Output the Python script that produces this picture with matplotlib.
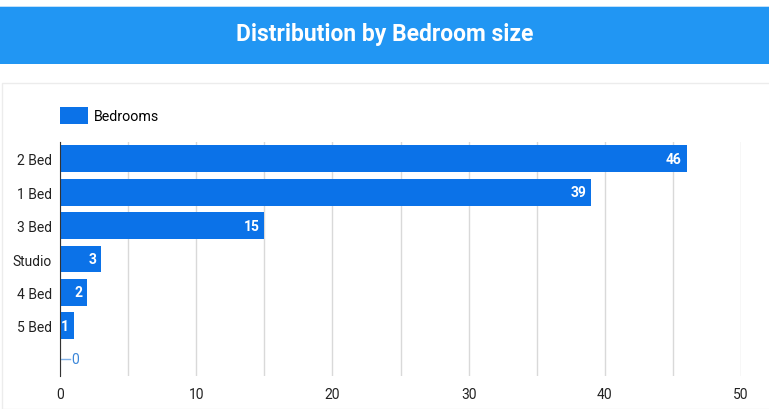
import matplotlib
matplotlib.use('Agg')
import matplotlib.pyplot as plt
from matplotlib.patches import Rectangle

# data
categories = ['2 Bed', '1 Bed', '3 Bed', 'Studio', '4 Bed', '5 Bed', '']
values = [46, 39, 15, 3, 2, 1, 0]
series_name = 'Bedrooms'
title = 'Distribution by Bedroom size'

bar_color = '#0b72e8'
head_color = '#2196f3'

plt.rcParams['font.family'] = ['Roboto', 'DejaVu Sans']

fig = plt.figure(figsize=(7.69, 4.10), dpi=100)
fig.patch.set_facecolor('white')

W, H = 769, 410
def fx(px):
    return px / W
def fy(py):
    return 1 - py / H

# header band
fig.patches.append(Rectangle((0, fy(65)), 1, (65 - 7) / H, transform=fig.transFigure,
                             facecolor=head_color, edgecolor='none', zorder=-2))
fig.patches.append(Rectangle((0, fy(8)), 1, 1.5 / H, transform=fig.transFigure,
                             facecolor='#bfe0fb', edgecolor='none', zorder=-2))
fig.text(0.5, fy(34), title, ha='center', va='center', color='white',
         fontsize=16.5, fontweight='bold')

# card
fig.patches.append(Rectangle((fx(1.5), 0), 1, fy(84), transform=fig.transFigure,
                             facecolor='white', edgecolor='#ececec', lw=1, zorder=-2))

ax = fig.add_axes([fx(60), fy(377), (741 - 60) / W, (377 - 143) / H])
ax.set_facecolor('none')
y = list(range(len(categories)))
bars = ax.barh(y, values, height=0.8, color=bar_color, label=series_name, zorder=2)
ax.set_ylim(len(categories) - 0.5, -0.5)
ax.set_xlim(0, 50)
ax.set_yticks(y)
ax.set_yticklabels(categories, fontsize=10, color='#222222')
ax.set_xticks(range(0, 51, 10))
ax.set_xticks(range(5, 51, 10), minor=True)
ax.tick_params(axis='x', which='both', length=0, labelsize=10, labelcolor='#222222', pad=8)
ax.tick_params(axis='y', length=0, pad=6)
ax.grid(axis='x', which='both', color='#d9d9d9', lw=1, zorder=0)
for s in ['top', 'right', 'bottom']:
    ax.spines[s].set_visible(False)
ax.spines['left'].set_color('#333333')
ax.spines['left'].set_zorder(3)

for yi, v in zip(y, values):
    if v > 0:
        ax.text(v - 0.35, yi, str(v), ha='right', va='center', color='white',
                fontsize=10, fontweight='bold', zorder=3)
    else:
        ax.plot([0, 0.7], [yi, yi], color='#7fb0e8', lw=1, zorder=3)
        ax.text(0.8, yi, str(v), ha='left', va='center', color='#3a86d9',
                fontsize=10, zorder=3)

leg = ax.legend(loc='center left', bbox_to_anchor=(fx(60), fy(116.5)),
                bbox_transform=fig.transFigure, frameon=False, fontsize=10.3,
                borderpad=0, borderaxespad=0,
                handlelength=1.95, handleheight=1.4, handletextpad=0.4)

fig.savefig('out.png', dpi=100)
